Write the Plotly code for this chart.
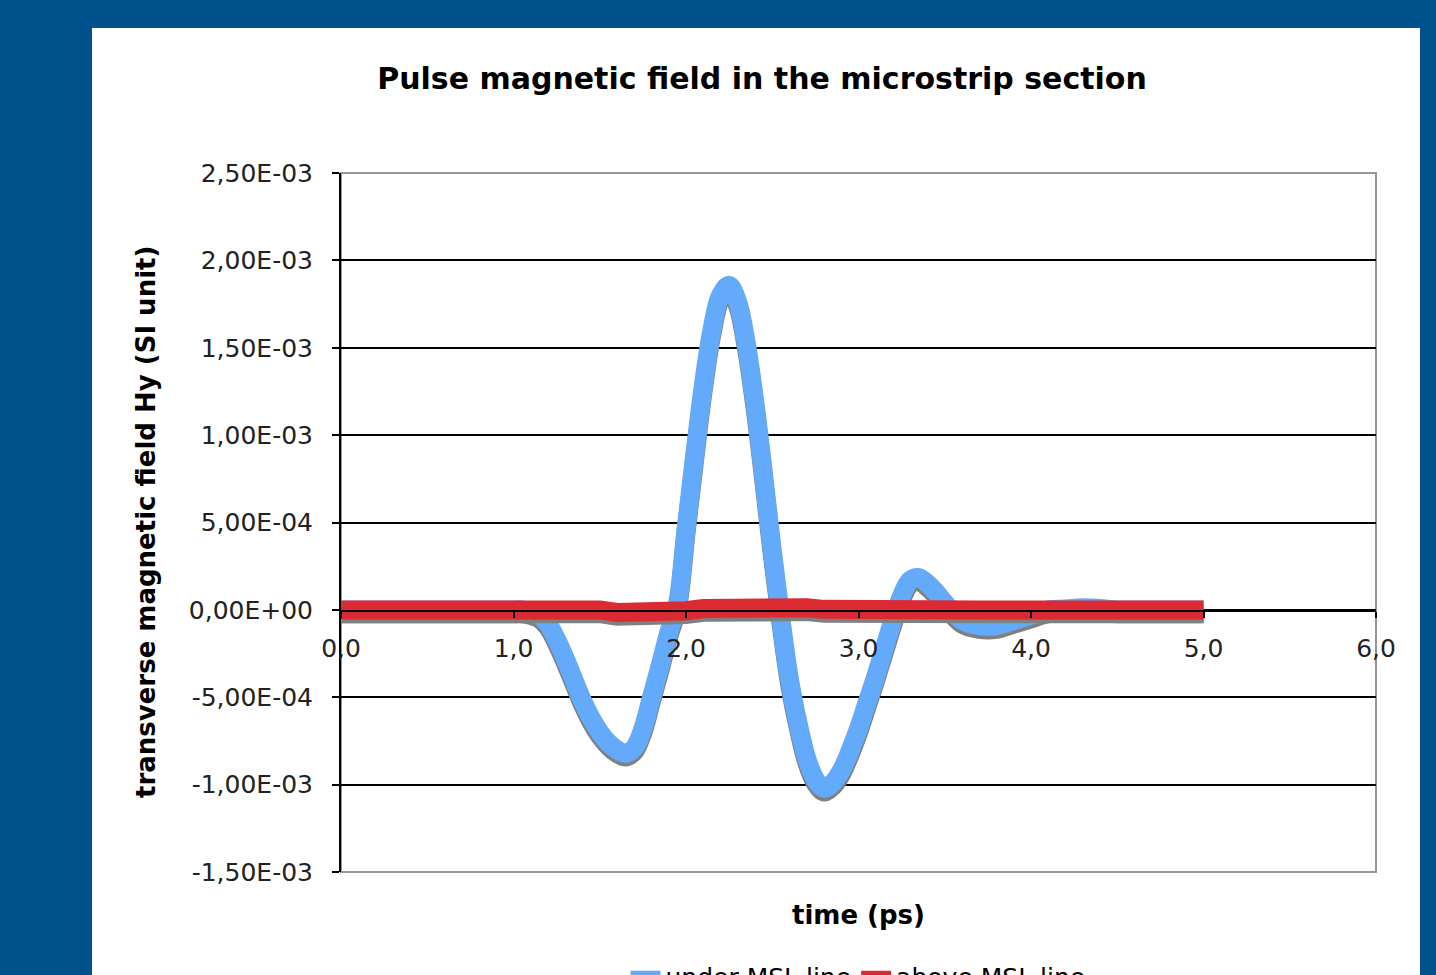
import plotly.graph_objects as go

# ---- data ----
time_blue = [0.0, 0.1, 0.2, 0.3, 0.4, 0.5, 0.6, 0.7, 0.8, 0.9, 1.0,
             1.05, 1.10, 1.15, 1.20, 1.25, 1.30, 1.35, 1.40, 1.45, 1.50,
             1.55, 1.60, 1.65, 1.70, 1.75, 1.80, 1.85, 1.90, 1.95, 2.00,
             2.05, 2.10, 2.15, 2.20, 2.25, 2.30, 2.35, 2.40, 2.45, 2.50,
             2.55, 2.60, 2.65, 2.70, 2.75, 2.80, 2.85, 2.90, 2.95, 3.00,
             3.05, 3.10, 3.15, 3.20, 3.25, 3.30, 3.35, 3.40, 3.45, 3.50,
             3.6, 3.7, 3.8, 3.9, 4.0, 4.1, 4.2, 4.3, 4.4, 4.5, 4.6, 4.7, 4.8, 4.9, 5.0]
under_msl = [0, 0, 0, 0, 0, 0, 0, 0, 0, 0, 0,
             0, -1e-5, -3e-5, -8e-5, -1.7e-4, -2.8e-4, -4.0e-4, -5.2e-4, -6.2e-4, -7.0e-4,
             -7.6e-4, -8.0e-4, -8.2e-4, -7.9e-4, -6.8e-4, -5.0e-4, -3.2e-4, -1.3e-4, 3e-5, 4.6e-4,
             8.8e-4, 1.28e-3, 1.60e-3, 1.80e-3, 1.857e-3, 1.76e-3, 1.52e-3, 1.18e-3, 7.7e-4, 3.4e-4,
             -5e-5, -4.0e-4, -6.5e-4, -8.5e-4, -9.7e-4, -1.02e-3, -9.9e-4, -9.2e-4, -8.1e-4, -6.8e-4,
             -5.3e-4, -3.8e-4, -2.2e-4, -6e-5, 8e-5, 1.7e-4, 1.85e-4, 1.5e-4, 1.0e-4, 4e-5,
             -6e-5, -9e-5, -9e-5, -6e-5, -3e-5, 0, 5e-6, 1.2e-5, 8e-6, 0, 0, 0, 0, 0, 0]
time_red = [0.0, 0.1, 0.2, 0.3, 0.4, 0.5, 0.6, 0.7, 0.8, 0.9,
            1.0, 1.1, 1.2, 1.3, 1.4, 1.5, 1.6, 1.7, 1.8, 1.9,
            2.0, 2.1, 2.2, 2.3, 2.4, 2.5, 2.6, 2.7, 2.8, 2.9,
            3.0, 3.1, 3.2, 3.3, 3.4, 3.5, 3.6, 3.7, 3.8, 3.9,
            4.0, 4.1, 4.2, 4.3, 4.4, 4.5, 4.6, 4.7, 4.8, 4.9, 5.0]
above_msl = [0, 0, 0, 0, 0, 0, 0, 0, 0, 1.5e-5,
             1.7e-5, 1.7e-5, 1.7e-5, 1.5e-5, 8e-6, 0, -1.5e-5, -1.7e-5, -1.7e-5, -1.2e-5,
             -5e-6, 8e-6, 1.2e-5, 2e-5, 2.5e-5, 2e-5, 1.5e-5, 1.2e-5, 3e-6, 0,
             0, 0, 0, 0, 0, 0, 0, 0, 0, 0,
             0, 0, 0, 0, 0, 0, 0, 0, 0, 0, 0]
y_tickvals = [-1.5e-3, -1e-3, -5e-4, 0, 5e-4, 1e-3, 1.5e-3, 2e-3, 2.5e-3]
y_ticktext = ["-1,50E-03", "-1,00E-03", "-5,00E-04", "0,00E+00", "5,00E-04",
              "1,00E-03", "1,50E-03", "2,00E-03", "2,50E-03"]
x_tickvals = [0, 1, 2, 3, 4, 5, 6]
x_ticktext = ["0,0", "1,0", "2,0", "3,0", "4,0", "5,0", "6,0"]

# ---- style ----
BLUE = "rgb(100,170,250)"
RED = "rgb(220,42,50)"
SHADOW = "rgb(128,128,128)"
SHADOW_DY = -2.2e-5
LW = 19
FONT = "DejaVu Sans"
TICK_SIZE = 25

fig = go.Figure()
fig.add_trace(go.Scatter(x=time_blue, y=[v + SHADOW_DY for v in under_msl], mode="lines",
                         line=dict(color=SHADOW, width=LW, shape="spline", smoothing=1.0),
                         showlegend=False, hoverinfo="skip"))
fig.add_trace(go.Scatter(x=time_blue, y=under_msl, mode="lines", name="under MSL line",
                         line=dict(color=BLUE, width=LW, shape="spline", smoothing=1.0)))
fig.add_trace(go.Scatter(x=time_red, y=[v + SHADOW_DY for v in above_msl], mode="lines",
                         line=dict(color=SHADOW, width=LW), showlegend=False, hoverinfo="skip"))
fig.add_trace(go.Scatter(x=time_red, y=above_msl, mode="lines", name="above MSL line",
                         line=dict(color=RED, width=LW)))

L, R, T, B = 341, 60, 173, 103
W, H = 1436, 975
pw, ph = W - L - R, H - T - B

def px_x(p):
    return (p - L) / pw

def px_y(p):
    return (H - B - p) / ph

fig.update_layout(
    width=W, height=H,
    margin=dict(l=L, r=R, t=T, b=B, autoexpand=False),
    paper_bgcolor="rgb(0,82,140)",
    plot_bgcolor="white",
    font=dict(family=FONT, color="#222", size=TICK_SIZE),
    title=dict(text="<b>Pulse magnetic field in the microstrip section</b>",
               x=762 / W, xanchor="center", y=1 - 78 / H, yanchor="middle",
               font=dict(family=FONT, size=30, color="black")),
    shapes=[
        dict(type="rect", xref="paper", yref="paper", x0=px_x(92), x1=px_x(1420),
             y0=px_y(1000), y1=px_y(28), fillcolor="white", line=dict(width=0), layer="below"),
        dict(type="rect", xref="paper", yref="paper", x0=0, x1=1, y0=0, y1=1,
             line=dict(color="rgb(150,150,150)", width=2), layer="below"),
    ],
    annotations=[
        dict(text="<b>time (ps)</b>", xref="paper", yref="paper", x=px_x(858), y=px_y(915),
             xanchor="center", yanchor="middle", showarrow=False,
             font=dict(family=FONT, size=26, color="black")),
        dict(text="<b>transverse magnetic field Hy (SI unit)</b>", xref="paper", yref="paper",
             x=px_x(146), y=px_y(522), xanchor="center", yanchor="middle", textangle=-90,
             showarrow=False, font=dict(family=FONT, size=26, color="black")),
    ],
    xaxis=dict(range=[0, 6], tickvals=x_tickvals, ticktext=x_ticktext,
               showgrid=False, zeroline=False, showline=True, linecolor="black", linewidth=2,
               ticks="outside", ticklen=6, tickcolor="black", tickwidth=2,
               anchor="free", position=px_y(611), ticklabelstandoff=9,
               tickfont=dict(size=TICK_SIZE, color="#222")),
    yaxis=dict(range=[-1.5e-3, 2.5e-3], tickvals=y_tickvals, ticktext=y_ticktext,
               showgrid=True, gridcolor="black", gridwidth=2, zeroline=False,
               showline=True, linecolor="black", linewidth=2,
               ticks="outside", ticklen=7, tickcolor="black", tickwidth=2,
               ticklabelstandoff=14,
               tickfont=dict(size=TICK_SIZE, color="#222")),
    legend=dict(orientation="h", x=px_x(858), xanchor="center", y=px_y(953), yanchor="top",
                font=dict(size=TICK_SIZE, color="black"), bgcolor="rgba(0,0,0,0)"),
)

fig.write_html("out.html", config={"displayModeBar": False},
               post_script="document.body.style.margin='0';document.body.style.overflow='hidden';")
